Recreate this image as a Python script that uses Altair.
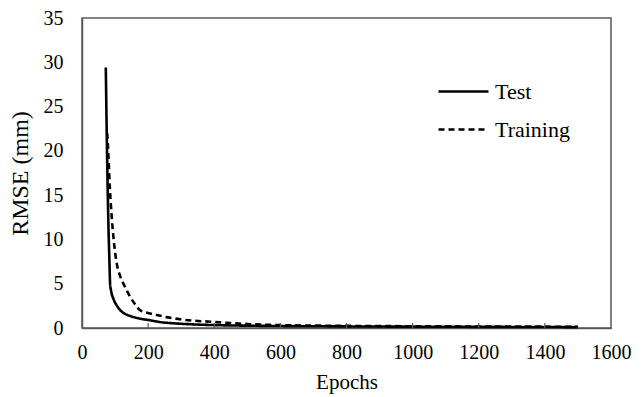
import altair as alt
import pandas as pd

test_epochs = [72, 74, 77, 80, 83, 85, 88, 96, 106, 116, 130, 146, 170, 201, 240, 277, 330, 388, 500, 600, 800, 1000, 1200, 1400, 1500]
test_rmse = [29.4, 24.0, 17.0, 11.5, 7.5, 5.0, 4.2, 3.2, 2.5, 2.0, 1.6, 1.35, 1.1, 0.9, 0.65, 0.53, 0.42, 0.34, 0.26, 0.22, 0.18, 0.15, 0.13, 0.11, 0.1]

train_epochs = [76, 78, 84, 90, 96, 101, 106, 116, 126, 136, 146, 160, 176, 200, 226, 260, 297, 340, 388, 450, 500, 600, 800, 1000, 1200, 1400, 1500]
train_rmse = [22.0, 20.9, 16.0, 12.5, 9.9, 8.3, 7.1, 5.8, 4.95, 4.2, 3.5, 2.7, 2.0, 1.7, 1.47, 1.2, 0.98, 0.82, 0.71, 0.55, 0.45, 0.33, 0.24, 0.2, 0.17, 0.15, 0.14]

series_names = ["Test", "Training"]
x_ticks = [200, 400, 600, 800, 1000, 1200, 1400]

df = pd.concat([
    pd.DataFrame({"Epochs": test_epochs, "RMSE": test_rmse, "Series": series_names[0]}),
    pd.DataFrame({"Epochs": train_epochs, "RMSE": train_rmse, "Series": series_names[1]}),
])
ticks_df = pd.DataFrame({"Epochs": x_ticks})

FONT = "Liberation Serif"
xscale = alt.Scale(domain=[0, 1600], nice=False)

lines = alt.Chart(df).mark_line(color="black", strokeWidth=2.6, interpolate="monotone").encode(
    x=alt.X("Epochs:Q", scale=xscale,
            axis=alt.Axis(values=list(range(0, 1601, 200)), format="d", title="Epochs", grid=False,
                          ticks=False, labelPadding=14, titlePadding=9, labelFlush=False,
                          labelFont=FONT, titleFont=FONT, labelFontSize=20, titleFontSize=21)),
    y=alt.Y("RMSE:Q", scale=alt.Scale(domain=[0, 35], nice=False),
            axis=alt.Axis(values=list(range(0, 36, 5)), format="d", title="RMSE (mm)", grid=False,
                          ticks=False, labelPadding=19, titlePadding=11, labelFlush=False,
                          labelFont=FONT, titleFont=FONT, labelFontSize=20, titleFontSize=24)),
    strokeDash=alt.StrokeDash("Series:N",
                              scale=alt.Scale(domain=series_names, range=[[1, 0], [6, 4]]),
                              legend=alt.Legend(title=None, orient="none", legendX=355, legendY=47,
                                                symbolType="stroke", symbolSize=2500,
                                                symbolStrokeWidth=2.6, symbolStrokeColor="black",
                                                labelFontSize=22, labelFont=FONT, labelColor="black",
                                                rowPadding=-13, labelOffset=5)),
    detail="Series:N",
)

ticks = alt.Chart(ticks_df).mark_rule(color="#595959", strokeWidth=1.2).encode(
    x=alt.X("Epochs:Q", scale=xscale),
    y=alt.value(310),
    y2=alt.value(305),
)

chart = alt.layer(lines, ticks).properties(
    width=529, height=310,
    autosize=alt.AutoSizeParams(type="none"),
    padding={"left": 74, "top": 10, "right": 25, "bottom": 70},
).configure_view(
    stroke="#595959", strokeWidth=1.5,
).configure_axis(
    domainColor="#595959", domainWidth=1.5,
    labelFont=FONT, titleFont=FONT,
    labelColor="black", titleColor="black", titleFontWeight="normal",
).configure_legend(
    labelFont=FONT,
)

chart.save("out.html", embed_options={"renderer": "svg", "actions": False})
